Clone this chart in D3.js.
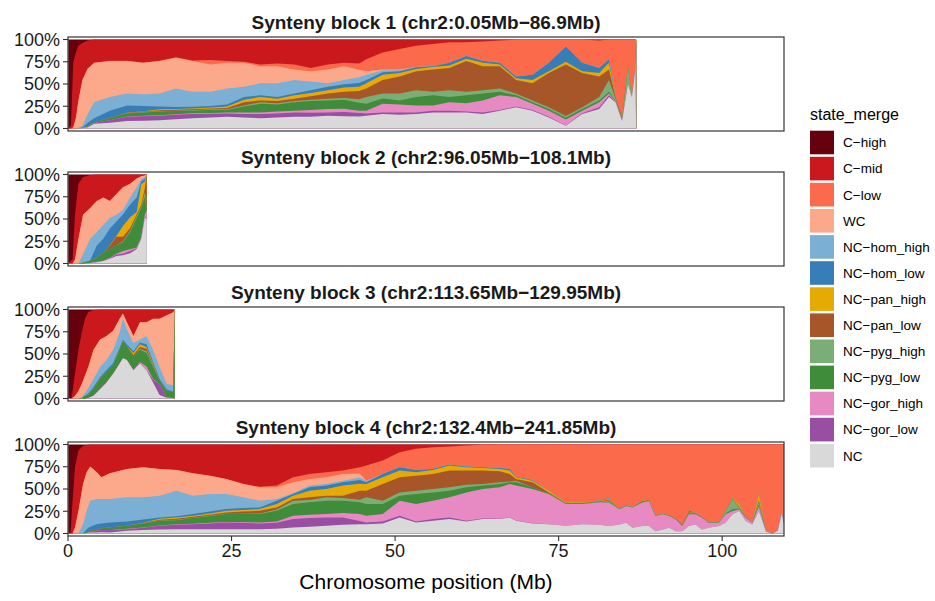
<!DOCTYPE html>
<html>
<head>
<meta charset="utf-8">
<script src="https://cdn.jsdelivr.net/npm/d3@7"></script>
<style>
  body { margin: 0; background: #fff; }
  svg { display: block; }
</style>
</head>
<body>
<svg id="chart" width="935" height="601"></svg>
<script>
// Ancestry states in legend order (top of each stack first)
const stateNames = ["C\u2212high", "C\u2212mid", "C\u2212low", "WC",
  "NC\u2212hom_high", "NC\u2212hom_low", "NC\u2212pan_high", "NC\u2212pan_low",
  "NC\u2212pyg_high", "NC\u2212pyg_low", "NC\u2212gor_high", "NC\u2212gor_low", "NC"];
const stateColors = ["#67000D", "#CB181D", "#FB6A4A", "#FCA98B",
  "#7BAFD4", "#377EB8", "#E6AB02", "#A65628",
  "#7AAE76", "#3F8C3A", "#E78AC3", "#984EA3", "#D9D9D9"];
// Rows below list the shares (%) from the bottom of the stack upward
const stackOrder = stateNames.slice().reverse();

const blockTitles = [
  "Synteny block 1 (chr2:0.05Mb\u221286.9Mb)",
  "Synteny block 2 (chr2:96.05Mb\u2212108.1Mb)",
  "Synteny block 3 (chr2:113.65Mb\u2212129.95Mb)",
  "Synteny block 4 (chr2:132.4Mb\u2212241.85Mb)"
];

// Position within each block (Mb)
const block1Pos = [0.05, 0.45, 0.8, 1.2, 1.6, 2.2, 3.0, 4.0, 6.4, 9.0, 11.5, 14, 16.5, 19, 21.8, 24.3, 26.9, 29.4, 32, 34.6,
  37.1, 39.7, 42.2, 44.5, 45.6, 48.1, 50.7, 53.2, 55.8, 58.3, 60.9, 63.4, 66, 68.5, 71, 73.5, 76.1, 78.6, 81.2, 82.7,
  83.7, 84.7, 85.6, 86.2, 86.7, 86.85];
// NC, gor_low, gor_high, pyg_low, pyg_high, pan_low, pan_high, hom_low, hom_high, WC, C-low, C-mid, C-high
const block1Shares = [
  [0,0,0,0,0,0,0,0,0,0,0,0,100],
  [0,0,0,0,0,0,0,0,0,0,0,3,97],
  [0,0,0,0,0,0,0,0,0,1,0,73,26],
  [0,0,0,0,0,0,0,0,0,11.5,0,73.5,15],
  [0,0,0,0,0,0,0,0,1,30.5,0,61.5,7],
  [0.5,0,0,0,0,0,0,0.5,2,51.6,0,41.4,4],
  [1,0.5,0,1,0,0,0,4,9.5,51,0,32,1],
  [5.4,0.8,0,0.8,0,0,0,4.5,18.1,44.2,0,26.2,0],
  [6.5,2.7,0.2,2.1,0.1,0,0,8.4,15.4,40.4,0.2,24,0],
  [8.5,4.6,0.4,3.4,0.3,0.3,0.3,8,13.4,36.6,0.2,24,0],
  [8.8,5,0.4,3.9,0.4,0.5,0.5,5.9,13.1,35.3,0.2,26,0],
  [9.2,5,0.6,4.4,0.4,0.9,1,3.1,14.6,36.6,0.2,24,0],
  [10.4,5,0.6,3.6,0.4,1,1,2.2,20.8,34.6,0.4,20,0],
  [11.5,4.7,0.8,3,0.5,1,1,2,16.7,34.6,0.7,23.5,0],
  [12.3,4.2,1,3.3,0.7,1,1,1.9,15.8,30.7,5,23.1,0],
  [13.1,3.8,1.1,2.8,0.7,1.6,1.5,2.3,18.1,28.8,2,24.2,0],
  [12.3,3.9,1.8,6.6,1.2,3.8,2.7,3.1,11.5,26.9,1.2,25,0],
  [11.5,4.7,1.9,9.6,1.9,1.9,3.9,1.9,13.5,19.2,1.9,28.1,0],
  [12.3,4.6,2.3,7.7,1.6,2.3,2.7,1.9,15.4,19.2,3,27,0],
  [13.1,5,1.9,9.6,1.2,2.7,3.8,1.9,15.4,11.6,5.7,28.1,0],
  [13.1,4.6,3.1,10,1.5,3.9,3.8,3.1,9.6,11.5,3.9,31.9,0],
  [14.2,3.9,3.8,9.6,2,5.7,3.9,3.8,3.9,15.4,5.7,28.1,0],
  [13.8,4.7,3.8,10,1.9,7,5,3.4,5,15.4,3.8,26.2,0],
  [13.5,4,2.5,9,4,9,5,4,6.5,8.5,7,27,0],
  [14.2,2.7,3.1,7.7,7.7,9.6,5.8,3.8,5.8,3.8,13.5,22.3,0],
  [16.2,1.9,9.6,6,5.5,15.4,5.8,2.7,2.3,0.8,19.2,14.6,0],
  [15.4,2.7,8.8,4.6,7.7,19.3,3.8,1.9,1.2,0.8,23,10.8,0],
  [16.2,1.9,7.7,9.6,7.7,21.1,2.7,1.9,0.4,0,23.9,6.9,0],
  [18.1,1.9,5.8,11.5,3.9,25,3,0.8,0,0,25,5,0],
  [18.1,1.9,9.6,5.8,7.7,25,2.7,3,0,0,23.1,3.1,0],
  [18.1,1.1,9.3,8.8,3.9,34.6,2.7,3,0,0,15.4,3.1,0],
  [16.2,1.9,13.4,7.7,3.9,26.9,3.8,2,0,0,21.9,2.3,0],
  [20,0.8,16.5,3.9,3.8,25,1.9,1.9,0,0,25,1.2,0],
  [23.8,0.8,10.8,1.9,1.9,15.4,1.9,2,0,0,41.5,0,0],
  [20,0.8,6.9,1.9,1.9,19.3,3.8,5.8,0,0,39.6,0,0],
  [12.3,0.8,6.9,1.9,1.9,38.5,1.9,9.6,0,0,26.2,0,0],
  [3,0.5,6.5,2,2,58,3,17,0,0,8,0,0],
  [16.2,0.8,3,1.9,1.9,38.5,1.9,9.6,0,0,26.2,0,0],
  [21.9,1.9,5.8,1.9,3.9,23.1,3.8,5.8,0,0,30.7,1.2,0],
  [35.4,1.9,1.9,2,13.4,11.6,7.6,3.9,0,0,22.3,0,0],
  [29.6,0.4,0.5,0.5,2.5,1.5,1,0.5,0,0.5,63,0,0],
  [8.5,0,0,0,1,2.5,0,0,0,0,88,0,0],
  [50,0,0,0,20,0,0,0,0,0,30,0,0],
  [35,0,0,0,0,0,0,0,0,0,65,0,0],
  [65,0,0,0,0,0,0,0,0,0,35,0,0],
  [0,0,100,0,0,0,0,0,0,0,0,0,0]
];

const block2Pos = [0.05, 0.3, 0.7, 1.07, 1.6, 2.3, 3.4, 4.4, 5.4, 6.4, 7.4, 8.4, 9.5, 10.5, 11.2, 11.75, 12.05];
const block2Shares = [
  [0,0,0,0,0,0,0,0,0,0,0,0,100],
  [0,0,0,0,0,0,0,0,0,0,0,2,98],
  [0,0,0,0,0,0,0,0,0,0,0,4.6,95.4],
  [0,0,0,0,0,0,0,0,0,4.6,0,50.4,45],
  [0,0,0,0,0,0,0,0,0,27.8,0,61.8,10.4],
  [0,0,0,0.8,0,0,0,0,9.6,44.4,0,42.5,2.7],
  [0.5,0,0,2.2,0,0,0,1,24.1,34.7,0,37,0.5],
  [1.5,0.5,0,4.6,0,0,0,13.5,15.4,34.8,0,29.7,0],
  [2.7,0.8,0,8.9,0,0,0,15.4,15.4,30.9,0,25.9,0],
  [5.4,0.6,0.5,9.7,0,3.8,0.5,18.9,11.6,19.3,0,29.7,0],
  [8.5,1.5,1,9.1,0,9.9,1,16.1,7.7,23.2,0,22,0],
  [9.3,1.7,3,9.9,1.1,5,12,13,5,25.7,0,14.3,0],
  [11.6,2.4,2,19.5,1.5,3,12,14.4,7.7,15.5,0,10.4,0],
  [16.2,0.8,1,33,2,2,3,16.1,11.6,9.7,0,4.6,0],
  [27.8,1.2,1,32.5,1.5,2,23,3,3,3,0,2,0],
  [51,1,3,20,5,5,7,3,2,2,0,1,0],
  [50,0,10,0,0,40,0,0,0,0,0,0,0]
];

const block3Pos = [0.05, 0.56, 1.07, 1.6, 2.1, 2.6, 3.1, 3.9, 4.9, 5.9, 6.9, 7.9, 8.4, 9.0, 10, 11, 12, 13, 14, 15.1, 16.1, 16.3];
const block3Shares = [
  [0,0,0,0,0,0,0,0,0,0,0,0,100],
  [0,0,0,0,0,0,0,0,0,0,0,0.8,99.2],
  [0,0,0,0,0,0,0,0,0,2.7,0,25.1,72.2],
  [0,0,0,0,0,0,0,0,0,8.5,0,46.3,45.2],
  [0,0,0,0.5,0,0,0,0,1,14.7,0,57.9,25.9],
  [0,0,0,2.7,0,0,0,0.5,3.4,19.3,0,63.7,10.4],
  [0.5,0,0,4.1,0,0,0,1,6,23.9,0,61.8,2.7],
  [3,0,0,8,0,0,0,2,9,32.8,0,44.7,0.5],
  [10.4,0.4,0,11.2,0,0,0,2,11.5,30.9,0,33.6,0],
  [18.1,0.4,0,11.2,0,0,0,2.3,11.2,27.1,0,29.7,0],
  [27.8,0,0,9.7,0,0,0,2.5,14.8,21.3,0,23.9,0],
  [39.4,0,0,15.4,0,0,0,2.2,17.1,15.5,0,10.4,0],
  [45.2,0,0,19.3,0,0,0,1.5,23.6,5.8,0,4.6,0],
  [43.2,0,0,15.5,0,0,0,2.3,17,7.7,0,14.3,0],
  [31.7,0.3,0,15.1,0,1.9,2,2,9.5,7.8,0,29.7,0],
  [39.4,0.6,1,13.8,1.2,2,3,2,3.4,19.3,0,14.3,0],
  [31.7,0.3,4,15,2,3,2,3,9.3,15.4,0,14.3,0],
  [18,3,0.8,14,1.5,1,1,2,13.5,34.8,0,10.4,0],
  [4,12,0,4,0,0,0,2,13.5,54.1,0,10.4,0],
  [0.8,0.2,0,7.5,0,0,0,1.5,6.2,77.2,0,6.6,0],
  [0.5,0,0,7.5,0,0,0,0,7,82,0,3,0],
  [0,0,0,100,0,0,0,0,0,0,0,0,0]
];

const block4Pos = [0.05, 0.4, 0.7, 1.07, 1.6, 2.3, 2.85, 3.4, 4.4, 5.1, 6.4, 9, 11.5, 14, 16.6, 19.1, 21.7, 24.2, 26.8, 29.3,
  31.9, 34.4, 36.9, 39.5, 42, 44.6, 45.6, 48.1, 50.7, 53.2, 55.8, 58.3, 60.9, 63.4, 66, 67.5, 68.5, 71, 73.5, 76.1,
  78.6, 81.2, 82.7, 84.3, 85.3, 86.3, 87.8, 88.8, 89.8, 90.9, 91.9, 92.9, 93.9, 94.9, 95.9, 96.9, 97.9, 99.5, 100.5, 101.6,
  102.6, 103.6, 104.6, 105.6, 106.7, 107.7, 108.5, 109.1, 109.45];
const block4Shares = [
  [0,0,0,0,0,0,0,0,0,0,0,0,100],
  [0,0,0,0,0,0,0,0,0,0,0,1.1,98.9],
  [0,0,0,0,0,0,0,0,0,0,0,36.8,63.2],
  [0,0,0,0,0,0,0,0,0,6.8,0,67.6,25.6],
  [0,0,0,0,0,0,0,0,0.5,25.1,0,67.6,6.8],
  [0,0,0,0,0,0,0,0,10.5,45.1,0,42.9,1.5],
  [0.5,0,0,1,0,0,0,3.4,20.7,43.2,0,30.7,0.5],
  [1,0.5,0,1.5,0,0,0,4.5,29.3,38.4,0,24.8,0],
  [1.1,1.9,0,1.5,0,0,0,6,28.2,30.1,0,31.2,0],
  [1.5,2.3,0,2.2,0,0,0,5.3,27.4,24.5,0,36.8,0],
  [1.1,2.7,0,3,0,0,0,5.6,26.3,29,0,32.3,0],
  [3,1.9,0.3,3.4,0,0,0,4.9,27.1,32,0,27.4,0],
  [3.8,2.6,0.4,4.5,0.2,0.3,0.2,3.8,24.8,33.8,0,25.6,0],
  [4.5,4.1,0.4,5.3,0.3,0.9,1,1.5,24.5,30.1,0,27.4,0],
  [4.9,4.9,0.5,4.7,0.4,1.1,1.5,1.5,28.6,23.3,0,28.6,0],
  [4.9,5.6,0.5,6.3,0.4,1.1,1.1,1.9,20.7,25.2,0,32.3,0],
  [4.9,6.4,0.7,7.5,0.5,1.1,1.5,2.2,19.6,20.6,0,35,0],
  [4.9,7.5,0.6,8.8,0.5,1.4,1.9,1.8,17,16.9,0,38.7,0],
  [4.9,7.1,0.8,9,0.5,2.5,1.5,2.3,12,15,0,44.4,0],
  [4.9,6.4,1.1,9.4,0.7,3.1,1.8,1.9,7.5,15.1,0.6,47.5,0],
  [5.3,6.7,1.5,12.1,1.4,2.3,3.8,3.7,2,13.1,1.9,46.2,0],
  [6.8,9.4,3.7,13.2,3.7,1.9,3.8,1.9,0.7,12.4,5.7,36.8,0],
  [7.5,9.8,3.8,13.9,2.6,3,7.5,3.8,1.9,7.5,5.6,33.1,0],
  [8.6,9.4,3.8,15,3.8,1.9,7.5,3.8,1.8,7.6,5.6,31.2,0],
  [9.8,8.2,4.9,13.9,3,2.7,11.3,3.7,1.9,7.5,3.8,29.3,0],
  [10.5,3.5,8,13,3,10,8,4,3,4.5,6.9,25.6,0],
  [10.5,1.9,7.5,13.2,7.5,7.5,7.5,1.9,1.9,0,16.9,23.7,0],
  [11.3,2.2,8.3,11.3,3.7,18.8,7.6,3.7,0,0,15.1,18,0],
  [18,1.9,16.9,5.7,3.7,17,7.5,3.7,0,0,17,8.6,0],
  [12.4,1.1,19.6,11.3,3.7,16.9,3.8,2.6,0,0,23.7,4.9,0],
  [14.3,1.9,20.6,9.4,3.8,16.9,4.5,1.2,0,0,24.4,3,0],
  [16.2,1.8,22.6,7.5,3.8,18.8,5.6,1.1,0,0,20.3,2.3,0],
  [13.5,0.8,31.9,5.7,3,15.8,3.7,0.8,0,0,23.7,1.1,0],
  [16.2,0.7,33.1,3.8,1.8,15.1,3,0.7,0,0,25.2,0.4,0],
  [16.2,0.3,35.4,3.7,1.9,12.4,2.7,1.1,0,0,26.3,0,0],
  [18,0.3,37.3,1.9,1,8.4,3.8,1.9,0,0,27.4,0,0],
  [14.3,0.2,39.3,3.7,1.9,1.9,1.9,0.7,0,0,36.1,0,0],
  [11.3,0.2,38.5,1.9,0,5.6,1.9,0.8,0,0,39.8,0,0],
  [10.5,0,33.9,0.7,0,1.1,1.9,0,0,0,51.9,0,0],
  [8.6,0,24.5,0.5,0,0.7,0.7,0,0,0,65,0,0],
  [10.5,0,22.6,0.5,0,0.7,0.7,0,0,0,65,0,0],
  [9.8,0,25.2,0.5,0.3,0.5,0.5,0.3,0,0,62.9,0,0],
  [8.3,0,26.4,1,1,1,1,0.8,0,0,60.5,0,0],
  [10.2,0,17,0.3,0,0.3,0.3,0,0,0,71.9,0,0],
  [12.1,0,18.8,0.3,0,0.5,0.5,0,0,0,67.8,0,0],
  [6.4,0,22.7,0.3,0,0.3,0.3,0,0,0,70,0,0],
  [8.3,0,26.4,0.5,0.3,1,0.8,0.4,0,0,62.3,0,0],
  [8.3,0,28.3,0.5,0,0.5,1,0.3,0,0,61.1,0,0],
  [2.6,0,17,0.3,0,0.3,0.3,0,0,0,79.5,0,0],
  [4.5,0,17,0.3,0,0.3,0.3,0,0,0,77.6,0,0],
  [6.4,0,13.2,0.3,0,0.3,0.3,0,0,0,79.5,0,0],
  [2.6,0,13.2,0.3,0,0.5,0.3,0,0,0,83.1,0,0],
  [2.6,0,5.7,0.5,0.5,0.9,0,0,0,0,89.8,0,0],
  [8.3,0,13.2,1,0.5,1,0.5,1.3,0,0,74.2,0,0],
  [10.2,0,11.3,0.5,0.3,0.5,0.5,0.1,0,0,76.6,0,0],
  [4.5,0,13.2,0.3,0.3,0.3,0.3,0,0,0,81.1,0,0],
  [6.4,0,5.7,0.3,0,0.3,0.3,0,0,0,87,0,0],
  [8.3,0,3.8,0.3,0,0,0,0,0,0,87.6,0,0],
  [12.1,0,9.4,1,2.8,0,0,0,0,0,74.7,0,0],
  [21.5,0,3.8,2,11.2,0.5,0.5,0.5,0,0,60,0,0],
  [25.3,0,1.9,1,1,0.8,2.8,0,0,0,67.2,0,0],
  [14,0,3.7,0.5,0.5,0.4,0.5,0,0,0,80.4,0,0],
  [10.2,0,1.9,0,0,0,0,0,0,0,87.9,0,0],
  [25.3,0,5,2,3,2,6.9,0,0,0,55.8,0,0],
  [1.9,0,0.6,0,0,0,0,0,0,0,97.5,0,0],
  [0,0,0,0,0,0,0,0,0,0,100,0,0],
  [3,0,0,0,0,0,0,0,0,0,97,0,0],
  [21.5,0,3.5,0,0,0,0,0,0,0,75,0,0],
  [10,0,0,0,0,0,0,0,0,0,90,0,0]
];

const yTickValues = [0, 0.25, 0.5, 0.75, 1];
const yTickLabels = ["0%", "25%", "50%", "75%", "100%"];
const xTickValues = [0, 25, 50, 75, 100];
const xAxisTitle = "Chromosome position (Mb)";
const legendTitle = "state_merge";

// ---------- layout ----------
const FONT = "'Liberation Sans', Arial, Helvetica, sans-serif";
const plotLeft = 68, plotRight = 784;
const panelTops = [37, 172, 307, 442];
const panelH = 94;
const xMax = 109.45;

const svg = d3.select("#chart");
svg.append("rect").attr("width", 935).attr("height", 601).attr("fill", "#fff");

const x = d3.scaleLinear().domain([0, xMax]).range([plotLeft, plotRight]);

const blocks = [
  { pos: block1Pos, shares: block1Shares },
  { pos: block2Pos, shares: block2Shares },
  { pos: block3Pos, shares: block3Shares },
  { pos: block4Pos, shares: block4Shares }
];

const colorOf = d3.scaleOrdinal().domain(stateNames).range(stateColors);

blocks.forEach((blk, i) => {
  const top = panelTops[i];
  const y = d3.scaleLinear().domain([0, 1]).range([top + panelH - 2.5, top + 2.5]);
  const g = svg.append("g");

  const rows = blk.pos.map((p, j) => {
    const r = { pos: p };
    stackOrder.forEach((k, m) => { r[k] = blk.shares[j][m]; });
    return r;
  });
  const series = d3.stack().keys(stackOrder).offset(d3.stackOffsetExpand)(rows);

  // paint each layer from the baseline up to its cumulative top, highest layer first
  const area = d3.area()
    .x(d => x(d.data.pos))
    .y0(y(0))
    .y1(d => y(d[1]))
    .curve(d3.curveLinear);
  series.slice().reverse().forEach(s => {
    g.append("path").datum(s).attr("d", area).attr("fill", colorOf(s.key));
  });

  // panel frame
  g.append("rect")
    .attr("x", plotLeft).attr("y", top)
    .attr("width", plotRight - plotLeft).attr("height", panelH)
    .attr("fill", "none").attr("stroke", "#333").attr("stroke-width", 1.2);

  // y axis
  const yAxis = g.append("g");
  yTickValues.forEach((v, k) => {
    yAxis.append("line")
      .attr("x1", plotLeft - 5).attr("x2", plotLeft)
      .attr("y1", y(v)).attr("y2", y(v))
      .attr("stroke", "#333").attr("stroke-width", 1.1);
    yAxis.append("text")
      .attr("x", plotLeft - 8).attr("y", y(v))
      .attr("dy", "0.36em")
      .attr("text-anchor", "end")
      .attr("font-family", FONT).attr("font-size", 18)
      .attr("fill", "#1a1a1a")
      .text(yTickLabels[k]);
  });

  // panel title
  g.append("text")
    .attr("x", (plotLeft + plotRight) / 2).attr("y", top - 15)
    .attr("dy", "0.36em")
    .attr("text-anchor", "middle")
    .attr("font-family", FONT).attr("font-size", 19).attr("font-weight", "bold")
    .attr("fill", "#1a1a1a")
    .text(blockTitles[i]);
});

// x axis under the last panel
const xBase = panelTops[3] + panelH;
const xAxisG = svg.append("g");
xTickValues.forEach(v => {
  xAxisG.append("line")
    .attr("x1", x(v)).attr("x2", x(v))
    .attr("y1", xBase).attr("y2", xBase + 5)
    .attr("stroke", "#333").attr("stroke-width", 1.1);
  xAxisG.append("text")
    .attr("x", x(v)).attr("y", xBase + 21)
    .attr("text-anchor", "middle")
    .attr("font-family", FONT).attr("font-size", 18)
    .attr("fill", "#1a1a1a")
    .text(v);
});
svg.append("text")
  .attr("x", (plotLeft + plotRight) / 2).attr("y", 589)
  .attr("text-anchor", "middle")
  .attr("font-family", FONT).attr("font-size", 21)
  .attr("fill", "#000")
  .text(xAxisTitle);

// legend
const legend = svg.append("g");
legend.append("text")
  .attr("x", 810).attr("y", 120)
  .attr("font-family", FONT).attr("font-size", 16)
  .attr("fill", "#000")
  .text(legendTitle);
stateNames.forEach((name, k) => {
  const ky = 130.7 + k * 26.1;
  legend.append("rect")
    .attr("x", 810).attr("y", ky)
    .attr("width", 24).attr("height", 23.6)
    .attr("fill", colorOf(name));
  legend.append("text")
    .attr("x", 843).attr("y", ky + 11.8)
    .attr("dy", "0.36em")
    .attr("font-family", FONT).attr("font-size", 13.5)
    .attr("fill", "#000")
    .text(name);
});
</script>
</body>
</html>
